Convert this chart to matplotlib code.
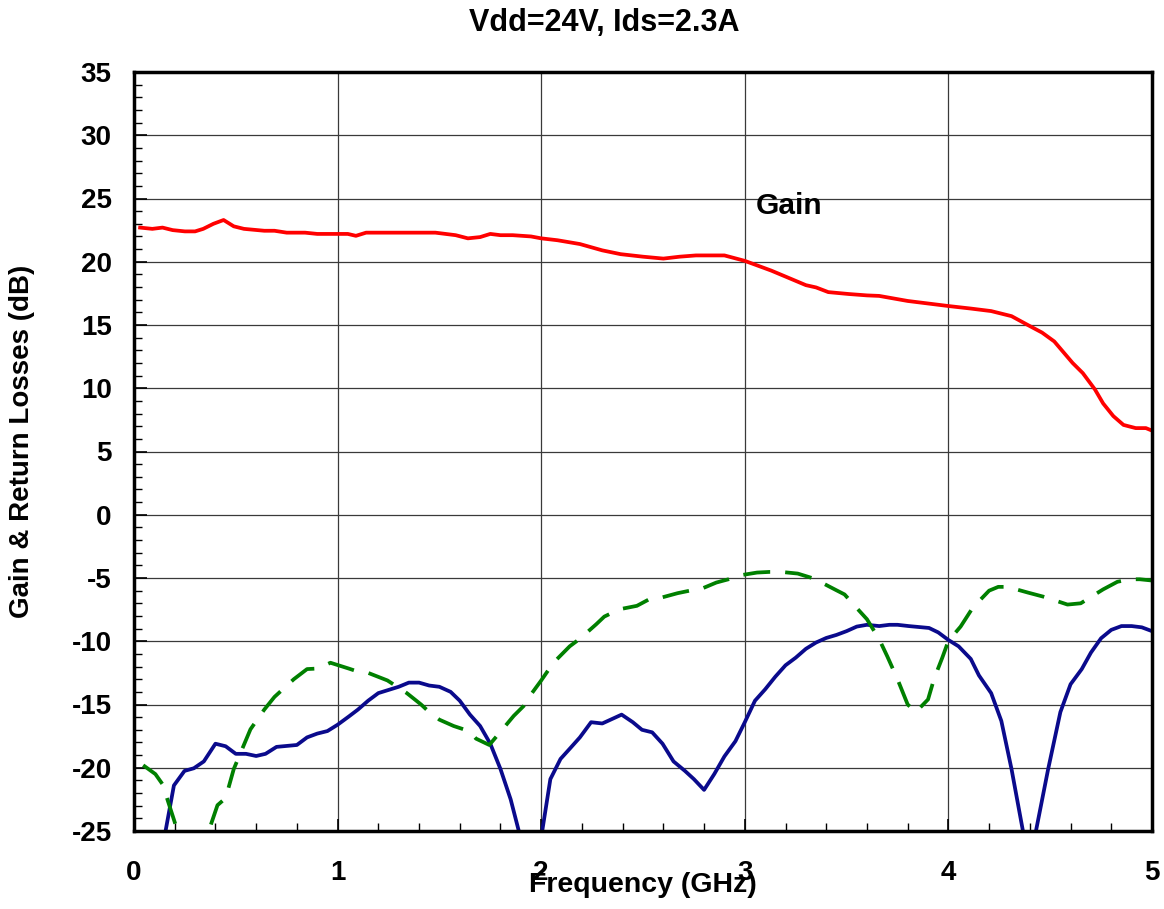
from matplotlib import pyplot as plt
from matplotlib.ticker import MultipleLocator
import numpy as np

plt.rcParams['font.family'] = 'Liberation Sans'
plt.rcParams['font.weight'] = 'bold'

############################################
# Data
############################################
freq_gain = [0.03, 0.09, 0.14, 0.19, 0.25, 0.30, 0.34, 0.39, 0.44, 0.49,
             0.54, 0.64, 0.69, 0.75, 0.84, 0.90, 1.00, 1.05, 1.09, 1.14,
             1.22, 1.48, 1.58, 1.64, 1.70, 1.75, 1.80, 1.86, 1.95, 2.00,
             2.08, 2.19, 2.30, 2.39, 2.50, 2.60, 2.68, 2.76, 2.90, 3.00,
             3.13, 3.21, 3.30, 3.35, 3.41, 3.51, 3.60, 3.66, 3.80, 3.90,
             4.00, 4.11, 4.21, 4.31, 4.39, 4.46, 4.52, 4.61, 4.66, 4.72,
             4.76, 4.81, 4.86, 4.92, 4.97, 5.00]
gain = [22.7, 22.6, 22.7, 22.5, 22.4, 22.4, 22.6, 23.0, 23.3, 22.8,
        22.6, 22.45, 22.45, 22.3, 22.3, 22.2, 22.2, 22.2, 22.05, 22.3,
        22.3, 22.3, 22.1, 21.85, 21.95, 22.2, 22.1, 22.1, 22.0, 21.85,
        21.7, 21.4, 20.9, 20.6, 20.4, 20.25, 20.4, 20.5, 20.5, 20.07,
        19.3, 18.76, 18.15, 17.97, 17.6, 17.45, 17.34, 17.3, 16.9, 16.7,
        16.5, 16.3, 16.1, 15.7, 15.0, 14.4, 13.7, 12.0, 11.2, 9.9,
        8.8, 7.8, 7.1, 6.85, 6.85, 6.65]

freq_blue = [0.05, 0.10, 0.155, 0.196, 0.248, 0.294, 0.343, 0.40, 0.45, 0.50,
             0.55, 0.60, 0.646, 0.70, 0.80, 0.85, 0.90, 0.95, 1.0, 1.055,
             1.10, 1.15, 1.20, 1.25, 1.30, 1.35, 1.40, 1.45, 1.50, 1.555,
             1.60, 1.65, 1.70, 1.75, 1.80, 1.85, 1.89, 1.95, 2.005, 2.045,
             2.095, 2.14, 2.19, 2.245, 2.30, 2.395, 2.45, 2.495, 2.545, 2.596,
             2.65, 2.706, 2.75, 2.80, 2.85, 2.90, 2.954, 3.0, 3.05, 3.10,
             3.15, 3.20, 3.25, 3.30, 3.35, 3.40, 3.45, 3.50, 3.55, 3.60,
             3.66, 3.71, 3.75, 3.805, 3.905, 3.95, 4.0, 4.05, 4.11, 4.15,
             4.21, 4.26, 4.31, 4.365, 4.40, 4.43, 4.49, 4.55, 4.60, 4.655,
             4.70, 4.75, 4.80, 4.85, 4.90, 4.95, 5.0]
rl_blue = [-31, -28, -25.0, -21.4, -20.25, -20.04, -19.5, -18.1, -18.3, -18.9,
           -18.9, -19.07, -18.9, -18.35, -18.2, -17.6, -17.3, -17.1, -16.6, -15.95,
           -15.4, -14.7, -14.1, -13.85, -13.6, -13.27, -13.27, -13.5, -13.6, -14.0,
           -14.7, -15.8, -16.7, -18.1, -20.1, -22.5, -25.0, -30, -25.0, -20.9,
           -19.3, -18.5, -17.6, -16.4, -16.5, -15.8, -16.4, -17.0, -17.2, -18.1,
           -19.5, -20.25, -20.9, -21.75, -20.5, -19.1, -17.9, -16.4, -14.7, -13.8,
           -12.8, -11.9, -11.3, -10.6, -10.1, -9.74, -9.5, -9.2, -8.84, -8.7,
           -8.8, -8.7, -8.7, -8.8, -8.95, -9.3, -9.9, -10.4, -11.4, -12.7,
           -14.1, -16.3, -20.1, -24.9, -28, -25.0, -20.1, -15.6, -13.4, -12.2,
           -10.9, -9.76, -9.1, -8.8, -8.8, -8.9, -9.2]

freq_green = [0.045, 0.105, 0.14, 0.18, 0.20, 0.25, 0.32, 0.367, 0.41, 0.45,
              0.49, 0.572, 0.64, 0.69, 0.785, 0.85, 0.90, 0.965, 1.055, 1.10,
              1.15, 1.245, 1.34, 1.41, 1.45, 1.50, 1.57, 1.645, 1.68, 1.745,
              1.81, 1.865, 1.915, 1.95, 2.0, 2.06, 2.14, 2.19, 2.27, 2.31,
              2.385, 2.47, 2.54, 2.59, 2.67, 2.73, 2.78, 2.86, 2.92, 2.98,
              3.06, 3.12, 3.18, 3.26, 3.33, 3.37, 3.45, 3.49, 3.54, 3.60,
              3.66, 3.70, 3.75, 3.80, 3.84, 3.90, 3.93, 3.97, 4.0, 4.06,
              4.12, 4.20, 4.245, 4.29, 4.39, 4.465, 4.51, 4.585, 4.65, 4.69,
              4.76, 4.83, 4.89, 4.94, 5.0]
rl_green = [-19.8, -20.5, -21.3, -23.3, -24.3, -27, -28, -25.0, -22.96, -22.4,
            -20.1, -16.96, -15.4, -14.4, -13.0, -12.2, -12.16, -11.7, -12.16, -12.4,
            -12.5, -13.1, -14.1, -15.0, -15.6, -16.2, -16.7, -17.1, -17.7, -18.2,
            -16.96, -15.9, -15.1, -14.2, -13.1, -11.7, -10.4, -9.8, -8.66, -8.05,
            -7.47, -7.2, -6.6, -6.55, -6.2, -6.0, -5.9, -5.36, -5.1, -4.78,
            -4.57, -4.52, -4.52, -4.65, -5.0, -5.3, -5.97, -6.3, -7.2, -8.26,
            -9.84, -11.2, -13.0, -15.0, -15.6, -14.6, -12.95, -11.3, -9.97, -8.84,
            -7.34, -6.0, -5.7, -5.7, -6.15, -6.47, -6.7, -7.1, -7.0, -6.6,
            -5.9, -5.3, -5.1, -5.1, -5.2]

x_ticks = [0, 1, 2, 3, 4, 5]
y_ticks = [-25, -20, -15, -10, -5, 0, 5, 10, 15, 20, 25, 30, 35]

############################################
# Figure
############################################
W, H = 1164, 909
fig = plt.figure(figsize=(W / 100, H / 100), dpi=100)
ax = fig.add_axes([134 / W, 1 - 831 / H, (1152 - 134) / W, (831 - 72) / H])

ax.plot(freq_gain, gain, color='#ff0000', lw=2.7, solid_joinstyle='round')
ax.plot(freq_blue, rl_blue, color='#0a0a8c', lw=2.7, solid_joinstyle='round')
ax.plot(freq_green, rl_green, color='#008000', lw=2.7, dashes=(7.2, 4.0))

ax.set_xlim(0, 5)
ax.set_ylim(-25, 35)
ax.set_xticks(x_ticks)
ax.set_yticks(y_ticks)
ax.set_xticklabels([str(t) for t in x_ticks])
ax.set_yticklabels([str(t) for t in y_ticks])
ax.xaxis.set_minor_locator(MultipleLocator(0.2))
ax.yaxis.set_minor_locator(MultipleLocator(1))
ax.tick_params(which='both', direction='in', top=False, right=False, labelsize=20)
ax.tick_params(which='major', length=9, width=1.2)
ax.tick_params(which='minor', length=6, width=1.0)
ax.tick_params(axis='y', which='major', pad=16)
ax.tick_params(axis='x', which='major', pad=21)

ax.grid(True, which='major', color='#3a3a3a', lw=0.9)
for s in ax.spines.values():
    s.set_linewidth(2.5)

ax.text(3.055, 23.8, 'Gain', fontsize=21.5, fontweight='bold', va='baseline', ha='left')

ax.set_xlabel('Frequency (GHz)', fontsize=20.5, fontweight='bold')
ax.xaxis.set_label_coords(0.5, -0.054)
fig.text(22 / W, 1 - 441 / H, 'Gain & Return Losses (dB)', fontsize=20,
         fontweight='bold', rotation=90, ha='center', va='center')
fig.text(604 / W, 1 - 31 / H, 'Vdd=24V, Ids=2.3A', fontsize=22,
         fontweight='bold', ha='center', va='baseline')

plt.savefig('out.png', dpi=100)
